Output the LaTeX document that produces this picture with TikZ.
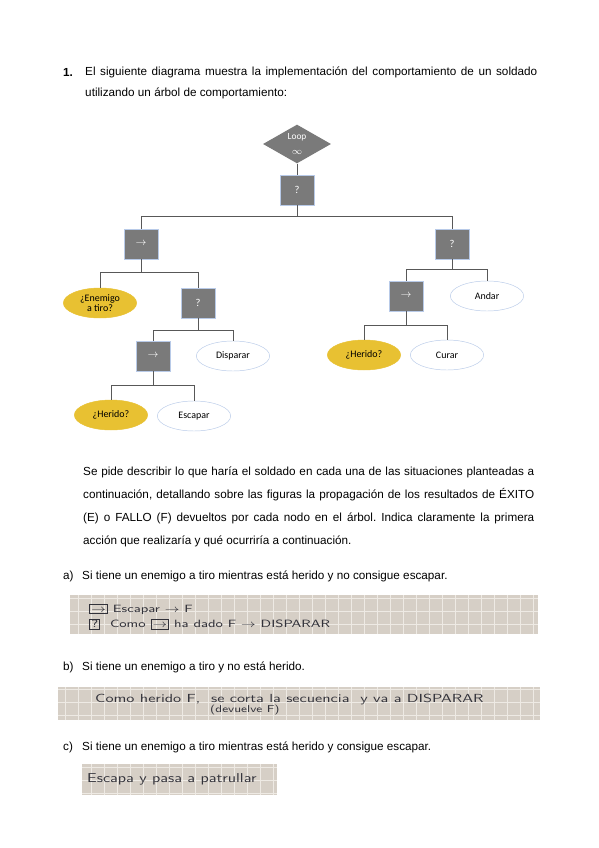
\documentclass[tikz,border=0pt]{standalone}
\usepackage{fontspec}
\setmainfont{Liberation Sans}
\newfontfamily\calibri{Carlito}
\usetikzlibrary{shapes.geometric}
\frenchspacing
\definecolor{nodogris}{RGB}{122,122,122}
\definecolor{bordeazul}{RGB}{184,202,232}
\definecolor{amarillo}{RGB}{232,193,50}
\definecolor{linea}{RGB}{88,88,88}
\definecolor{papel}{RGB}{214,207,198}
\definecolor{cuadricula}{RGB}{238,234,228}
\definecolor{lapiz}{RGB}{50,50,58}
\newcommand{\casilla}[1]{{\setlength{\fboxsep}{0.8pt}\setlength{\fboxrule}{0.5pt}\fbox{\vphantom{A}#1}}}
\newcommand{\ancho}[2]{\scalebox{#1}[1]{#2}}
\tikzset{
  caja/.style={rectangle,draw=bordeazul,fill=nodogris,minimum width=1.02cm,minimum height=0.9cm,
    inner sep=0pt,text=white,font=\calibri\fontsize{9}{10}\selectfont},
  bucle/.style={diamond,fill=nodogris,minimum width=2.04cm,minimum height=1.1cm,inner sep=0pt,
    text=white,font=\calibri\fontsize{8}{9}\selectfont,align=center},
  accion/.style={ellipse,draw=bordeazul,fill=white,minimum width=2.2cm,minimum height=0.9cm,
    inner sep=0pt,font=\calibri\fontsize{8.5}{9}\selectfont,align=center},
  condicion/.style={accion,draw=amarillo,fill=amarillo},
  rama/.style={draw=linea,line width=0.7pt},
  texto/.style={anchor=west,inner sep=0pt,font=\fontsize{10}{12}\selectfont},
  hoja/.style={fill=papel,draw=none},
  letra/.style={anchor=west,inner sep=0pt,text=lapiz,font=\sffamily\fontsize{9}{10}\selectfont},
}

\begin{document}
\begin{tikzpicture}[x=0.03cm,y=-0.03cm]
  \useasboundingbox[fill=white] (0,0) rectangle (599,848);

  % enunciado
  \node[texto,font=\bfseries\fontsize{10}{12}\selectfont] (num) at (63,72) {1.};
  \node[texto] (enun1) at (85,72) {\makebox[13.56cm][s]{El siguiente diagrama muestra la implementación del comportamiento de un soldado}};
  \node[texto] (enun2) at (85,93) {utilizando un árbol de comportamiento:};

  % arbol
  \node[bucle] (loop) at (297,144) {Loop\\[3pt]$\infty$};
  \node[caja] (sel) at (297,190) {?};
  \node[caja] (seqL) at (141,244) {$\rightarrow$};
  \node[caja] (selR) at (452,244) {?};
  \node[condicion] (enemigo) at (100,303) {¿Enemigo\\a tiro?};
  \node[caja] (selL2) at (198,303) {?};
  \node[caja] (seqL3) at (153,356) {$\rightarrow$};
  \node[accion] (disparar) at (233,356) {Disparar};
  \node[condicion] (herido1) at (111,415) {¿Herido?};
  \node[accion] (escapar) at (194,416) {Escapar};
  \node[caja] (seqR) at (406,296) {$\rightarrow$};
  \node[accion] (andar) at (487,296) {Andar};
  \node[condicion] (herido2) at (364,355) {¿Herido?};
  \node[accion] (curar) at (447,355) {Curar};

  \draw[rama] (loop.south) -- (sel.north);
  \draw[rama] (sel.south) -- ++(0,11) -| (seqL.north);
  \draw[rama] (sel.south) -- ++(0,11) -| (selR.north);
  \draw[rama] (seqL.south) -- ++(0,13) -| (enemigo.north);
  \draw[rama] (seqL.south) -- ++(0,13) -| (selL2.north);
  \draw[rama] (selL2.south) -- ++(0,12) -| (seqL3.north);
  \draw[rama] (selL2.south) -- ++(0,12) -| (disparar.north);
  \draw[rama] (seqL3.south) -- ++(0,14) -| (herido1.north);
  \draw[rama] (seqL3.south) -- ++(0,14) -| (escapar.north);
  \draw[rama] (selR.south) -- ++(0,10) -| (seqR.north);
  \draw[rama] (selR.south) -- ++(0,10) -| (andar.north);
  \draw[rama] (seqR.south) -- ++(0,14) -| (herido2.north);
  \draw[rama] (seqR.south) -- ++(0,14) -| (curar.north);

  % pregunta
  \node[texto] (preg1) at (83,472) {\makebox[13.53cm][s]{Se pide describir lo que haría el soldado en cada una de las situaciones planteadas a}};
  \node[texto] (preg2) at (83,495) {\makebox[13.53cm][s]{continuación, detallando sobre las figuras la propagación de los resultados de ÉXITO}};
  \node[texto] (preg3) at (83,518) {\makebox[13.53cm][s]{(E) o FALLO (F) devueltos por cada nodo en el árbol. Indica claramente la primera}};
  \node[texto] (preg4) at (83,541) {acción que realizaría y qué ocurriría a continuación.};

  % apartado a
  \node[texto] (aa) at (63,576) {a)};
  \node[texto] (atxt) at (82,576) {Si tiene un enemigo a tiro mientras está herido y no consigue escapar.};
  \fill[hoja] (70,595) rectangle (538,634);
  \begin{scope}
    \clip (70,595) rectangle (538,634);
    \draw[cuadricula,line width=0.4pt,step=0.39cm] (70,595) grid (538,634);
  \end{scope}
  \node[letra] (resa1) at (89,609) {\ancho{1.35}{\casilla{$\rightarrow$}\ Escapar $\rightarrow$ F}};
  \node[letra] (resa2) at (89,624) {\ancho{1.35}{\casilla{?}\ \ Como \casilla{$\rightarrow$} ha dado F $\rightarrow$ DISPARAR}};

  % apartado b
  \node[texto] (bb) at (63,667) {b)};
  \node[texto] (btxt) at (82,667) {Si tiene un enemigo a tiro y no está herido.};
  \fill[hoja] (58,687) rectangle (540,720);
  \begin{scope}
    \clip (58,687) rectangle (540,720);
    \draw[cuadricula,line width=0.4pt,step=0.39cm] (58,687) grid (540,720);
  \end{scope}
  \node[letra,font=\sffamily\fontsize{10}{11}\selectfont] (resb1) at (95,699) {\ancho{1.38}{Como herido F, \ se corta la secuencia \ y va a DISPARAR}};
  \node[letra,font=\sffamily\fontsize{8.5}{9}\selectfont] (resb2) at (210,710) {\ancho{1.3}{(devuelve F)}};

  % apartado c
  \node[texto] (cc) at (63,747) {c)};
  \node[texto] (ctxt) at (82,747) {Si tiene un enemigo a tiro mientras está herido y consigue escapar.};
  \fill[hoja] (82,764) rectangle (277,795);
  \begin{scope}
    \clip (82,764) rectangle (277,795);
    \draw[cuadricula,line width=0.4pt,step=0.39cm] (82,764) grid (277,795);
  \end{scope}
  \node[letra,font=\sffamily\fontsize{11}{12}\selectfont] (resc) at (87,779) {\ancho{1.28}{Escapa y pasa a patrullar}};
\end{tikzpicture}
\end{document}
